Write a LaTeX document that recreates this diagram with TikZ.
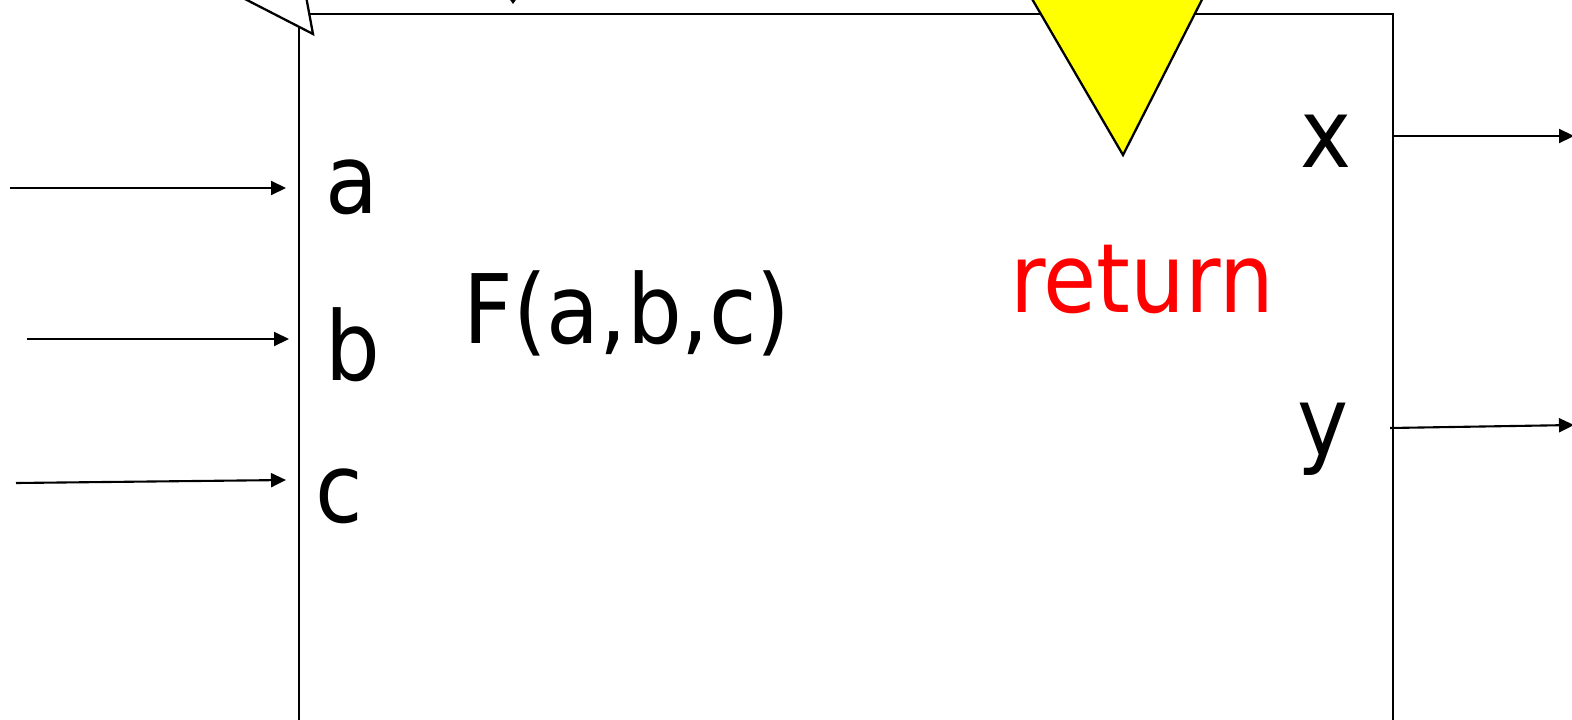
\documentclass[tikz,border=0pt]{standalone}
\usepackage{fontspec}
\setmainfont{DejaVu Sans Condensed}
\usepackage{xcolor}
\usetikzlibrary{arrows.meta, positioning, calc}
\definecolor{purey}{RGB}{255,255,0}

\begin{document}
\begin{tikzpicture}[x=0.02cm, y=-0.02cm,
  lbl/.style={anchor=base west, inner sep=0pt,
    font=\fontsize{54.6}{60}\selectfont},
  arrow/.style={-{Triangle[length=0.3cm, width=0.28cm]}, line width=1.2pt},
  frame/.style={draw, line width=1.3pt}]
  \clip (0,0) rectangle (1572,720);
  % the function box (runs on below the picture)
  \draw[frame] (299,14) rectangle (1393,760);
  \node[inner sep=0pt] (func) at (846,387) {};
  % shapes cut by the top edge
  \draw[frame, fill=white] (208,-20) -- (313,34) -- (303,-20) -- cycle;
  \fill (506,-6) -- (520,-6) -- (513,4) -- cycle;
  \draw[frame, fill=purey] (1021,-20) -- (1123,155) -- (1212,-20) -- cycle;
  % texts
  \node[lbl] (pa) at (325,213) {a};
  \node[lbl] (pb) at (325,380) {b};
  \node[lbl] (pc) at (315,522) {c};
  \node[lbl] (call) at (463,343) {F(a,b,c)};
  \node[lbl, text=red] (ret) at (1010,312) {return};
  \node[lbl] (px) at (1300,167) {x};
  \node[lbl] (py) at (1297,455) {y};
  % inputs and outputs
  \coordinate (inA) at (10,188);   \coordinate (endA) at (286,188);
  \coordinate (inB) at (27,339);   \coordinate (endB) at (289,339);
  \coordinate (inC) at (16,483);   \coordinate (endC) at (286,480);
  \coordinate (outX) at (1393,136); \coordinate (endX) at (1574,136);
  \coordinate (outY) at (1390,428); \coordinate (endY) at (1574,425);
  \draw[arrow] (inA) -- (endA);
  \draw[arrow] (inB) -- (endB);
  \draw[arrow] (inC) -- (endC);
  \draw[arrow] (outX) -- (endX);
  \draw[arrow] (outY) -- (endY);
\end{tikzpicture}
\end{document}
